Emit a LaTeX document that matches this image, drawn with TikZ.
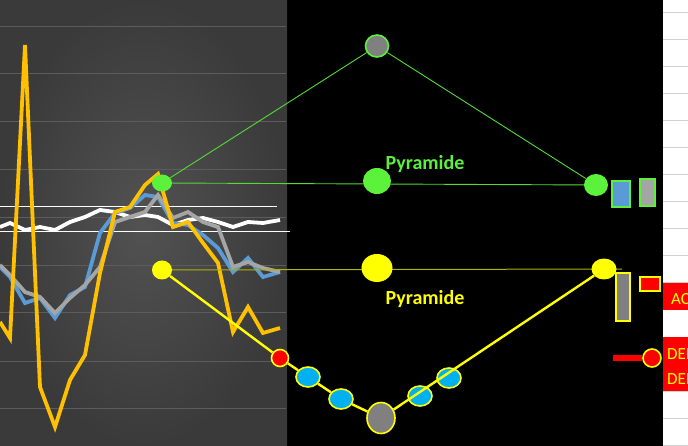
\documentclass[tikz,border=0pt]{standalone}
\usepackage{fontspec}
\setmainfont{Carlito}
\usetikzlibrary{shapes.geometric}
\definecolor{pyrgreen}{HTML}{5CF23C}
\definecolor{pyryellow}{HTML}{FFFF00}
\definecolor{lineorange}{HTML}{FFC000}
\definecolor{lineblue}{HTML}{5B9BD5}
\definecolor{linegray}{HTML}{A5A5A5}
\definecolor{dotcyan}{HTML}{00B0F0}
\definecolor{dotgray}{HTML}{808080}
\definecolor{panelin}{HTML}{525252}
\definecolor{panelout}{HTML}{3A3A3A}
\definecolor{gridleft}{HTML}{5C5C5C}
\definecolor{gridright}{HTML}{D0D0D0}
\pgfdeclarelayer{back}
\pgfdeclarelayer{wires}
\pgfsetlayers{back,wires,main}
\tikzset{
	gdot/.style={ellipse, fill=pyrgreen, inner sep=0pt},
	ydot/.style={ellipse, fill=pyryellow, inner sep=0pt},
	vdot/.style={ellipse, draw=pyryellow, line width=1.6pt, inner sep=0pt, minimum width=24, minimum height=20},
	gline/.style={pyrgreen!90!black, line width=0.9pt},
	yline/.style={pyryellow, line width=2.4pt},
	hline/.style={pyryellow!70!black, line width=1pt},
	chart/.style={line width=3.8pt, line join=miter},
	label/.style={font=\fontsize{20}{22}\selectfont\bfseries, inner sep=0pt},
	redtext/.style={font=\fontsize{17}{20}\selectfont, text=pyryellow, inner sep=0pt, anchor=base west}
}

\begin{document}
\begin{tikzpicture}[x=1pt,y=-1pt]
	%%%%% START %%%%%
	\useasboundingbox (0,0) rectangle (688,446);
	\clip (0,0) rectangle (688,446);
	
	\begin{pgfonlayer}{back}
		\fill[black] (0,0) rectangle (688,446);
		\shade[inner color=panelin, outer color=panelout] (0,0) rectangle (287,446);
		\fill[white] (663,0) rectangle (688,446);
		\foreach \gy in {27,74,122,170,218,266,313,361,408}
			\draw[gridleft, line width=1pt] (0,\gy) -- (286,\gy);
		\foreach \k in {0,...,16}
			\draw[gridright, line width=1pt] (663,13+27*\k) -- (688,13+27*\k);
		
		% chart
		\draw[white, line width=1pt] (0,207) -- (277,207);
		\draw[white, line width=1pt] (0,232) -- (290,232);
		\draw[chart, white] plot coordinates {(0,227) (10,223) (25,230) (40,227) (55,230) (70,222) (85,217) (100,210) (115,212) (130,217) (145,215) (158,217) (173,225) (188,220) (203,218) (218,222) (233,227) (248,222) (263,223) (280,220)};
		\draw[chart, lineblue] plot coordinates {(0,267) (10,277) (25,303) (40,298) (55,318) (70,295) (85,287) (100,233) (115,213) (130,208) (145,195) (158,197) (173,223) (188,225) (203,235) (218,248) (233,272) (248,258) (263,277) (280,272)};
		\draw[chart, linegray] plot coordinates {(0,265) (10,275) (25,292) (40,297) (55,313) (70,298) (85,285) (100,267) (115,222) (130,217) (145,212) (158,195) (173,218) (188,212) (203,222) (218,227) (233,267) (248,262) (263,268) (280,272)};
		\draw[chart, lineorange] plot coordinates {(0,322) (10,338) (25,45) (40,387) (55,427) (70,380) (85,355) (100,273) (115,212) (130,207) (145,185) (158,174) (173,227) (188,222) (203,243) (218,263) (233,332) (248,307) (263,333) (280,328)};
	\end{pgfonlayer}
	
	% green pyramid
	\node[gdot, minimum width=20, minimum height=17] (gL) at (162,183) {};
	\node[ellipse, fill=dotgray, draw=pyrgreen, line width=1.6pt, minimum width=23, minimum height=22, inner sep=0pt] (gT) at (377,46) {};
	\node[gdot, minimum width=28, minimum height=26] (gM) at (377,181) {};
	\node[gdot, minimum width=24, minimum height=22] (gR) at (596,185) {};
	\node[label, text=pyrgreen, anchor=base] (gTxt) at (425,170) {Pyramide};
	\draw[draw=pyrgreen, line width=2pt, fill=lineblue] (612,181) rectangle (630,207);
	\draw[draw=pyrgreen, line width=2pt, fill=linegray] (640,179) rectangle (655,206);
	
	% yellow pyramid
	\node[ydot, minimum width=20, minimum height=19] (yL) at (162,270) {};
	\node[ydot, minimum width=31, minimum height=28] (yM) at (377,268) {};
	\node[ydot, minimum width=25, minimum height=21] (yR) at (604,269) {};
	\coordinate (yEnd) at (622,269);
	\node[label, text=pyryellow, anchor=base] (yTxt) at (425,305) {Pyramide};
	\node[ellipse, fill=red, draw=pyryellow, line width=1.6pt, minimum width=17, minimum height=17, inner sep=0pt] (vR) at (280,358) {};
	\node[vdot, fill=dotcyan] (v1) at (308,377) {};
	\node[vdot, fill=dotcyan] (v2) at (341,399) {};
	\node[vdot, fill=dotgray, minimum width=28, minimum height=31] (vB) at (381,418) {};
	\node[vdot, fill=dotcyan] (v3) at (420,396) {};
	\node[vdot, fill=dotcyan] (v4) at (449,378) {};
	\draw[draw=pyryellow, line width=2pt, fill=dotgray] (616,273) rectangle (630,321);
	\draw[draw=pyryellow, line width=2pt, fill=red] (640,277) rectangle (660,291);
	
	\begin{pgfonlayer}{wires}
		\draw[gline] (gL) -- (gT);
		\draw[gline] (gT) -- (gR);
		\draw[gline] (gL.center) -- (gR.center);
		\draw[hline] (yL.center) -- (yEnd);
		\draw[yline] (yL) -- (vR);
		\draw[yline] (vR) -- (v1);
		\draw[yline] (v1) -- (v2);
		\draw[yline] (v2) -- (vB);
	\end{pgfonlayer}
	\draw[yline] (vB) -- (yR);
	
	% orders
	\node[fill=red, minimum width=40, minimum height=27, inner sep=0pt, anchor=north west] (acBox) at (663,283) {};
	\node[redtext] (acTxt) at (671,305) {AC};
	\node[fill=red, minimum width=40, minimum height=54, inner sep=0pt, anchor=north west] (deBox) at (663,337) {};
	\node[redtext] (deTxt1) at (667,359) {DER};
	\node[redtext] (deTxt2) at (667,384) {DER};
	\node[circle, fill=red, draw=pyryellow, line width=1.6pt, minimum size=18, inner sep=0pt] (deDot) at (652,358) {};
	\coordinate (deTail) at (613,358);
	\draw[red, line width=6pt] (deTail) -- (deDot);
	
	%%%%% END %%%%%
\end{tikzpicture}
\end{document}
